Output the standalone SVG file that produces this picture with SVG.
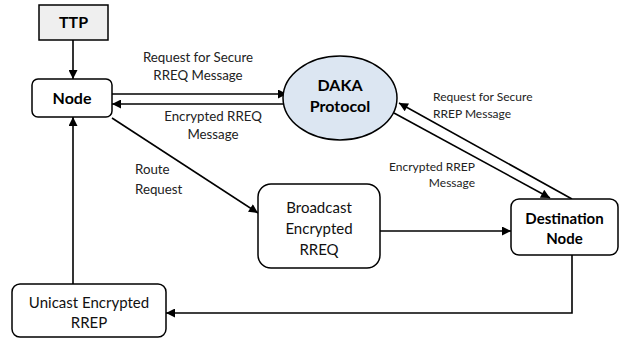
<svg xmlns="http://www.w3.org/2000/svg" width="620" height="339" viewBox="0 0 620 339">
  <defs>
    <marker id="arrow" viewBox="0 0 10 10" refX="10" refY="5" markerWidth="10" markerHeight="9" markerUnits="userSpaceOnUse" orient="auto">
      <path d="M0,0 L10,5 L0,10 z" fill="#000"/>
    </marker>
    <style>
      .box { fill: #fff; stroke: #000; stroke-width: 1.5; }
      .wire { fill: none; stroke: #000; stroke-width: 1.6; marker-end: url(#arrow); }
      .title { font-family: Lato, "Liberation Sans", sans-serif; font-weight: bold; font-size: 15px; fill: #000; text-anchor: middle; }
      .body { font-family: Lato, "Liberation Sans", sans-serif; font-size: 15px; fill: #111; text-anchor: middle; }
      .lbl { font-family: Lato, "Liberation Sans", sans-serif; font-size: 13.3px; fill: #222; text-anchor: middle; }
      .small { font-family: Lato, "Liberation Sans", sans-serif; font-size: 12px; fill: #222; }
    </style>
  </defs>
  <rect width="620" height="339" fill="#fff"/>

  <g id="connectors">
    <line class="wire" x1="73" y1="40" x2="73" y2="79"/>
    <line class="wire" x1="112" y1="94" x2="287" y2="94"/>
    <line class="wire" x1="286" y1="104" x2="112" y2="104"/>
    <line class="wire" x1="112" y1="118" x2="258" y2="213"/>
    <line class="wire" x1="380" y1="231" x2="511" y2="231"/>
    <line class="wire" x1="572" y1="199" x2="399" y2="103"/>
    <line class="wire" x1="394" y1="113" x2="550" y2="198"/>
    <polyline class="wire" points="572,255 572,313 166,313"/>
    <line class="wire" x1="73" y1="284" x2="73" y2="117"/>
  </g>

  <g id="edge-labels">
    <text class="lbl" x="198" y="62">Request for Secure</text>
    <text class="lbl" x="198" y="80">RREQ Message</text>
    <text class="lbl" x="213" y="121">Encrypted RREQ</text>
    <text class="lbl" x="213" y="139">Message</text>
    <text class="lbl" x="135" y="174" style="text-anchor:start">Route</text>
    <text class="lbl" x="135" y="194" style="text-anchor:start">Request</text>
    <text class="small" x="433" y="101">Request for Secure</text>
    <text class="small" x="433" y="118">RREP Message</text>
    <text class="small" x="475" y="171" style="text-anchor:end">Encrypted RREP</text>
    <text class="small" x="475" y="187" style="text-anchor:end">Message</text>
  </g>

  <g id="ttp">
    <rect x="39" y="5" width="69" height="35" fill="#efefef" stroke="#000" stroke-width="1.5"/>
    <text class="title" x="73.5" y="28" style="font-size:16px">TTP</text>
  </g>

  <g id="node">
    <rect class="box" x="32" y="79" width="80" height="38" rx="6"/>
    <text class="title" x="72" y="104" style="font-size:16px">Node</text>
  </g>

  <g id="daka">
    <ellipse cx="340" cy="98" rx="57" ry="42" fill="#dce6f2" stroke="#000" stroke-width="1.5"/>
    <text class="title" x="340" y="91" style="font-size:16px">DAKA</text>
    <text class="title" x="340" y="112" style="font-size:16px">Protocol</text>
  </g>

  <g id="broadcast">
    <rect class="box" x="258" y="184" width="122" height="84" rx="13"/>
    <text class="body" x="319" y="213">Broadcast</text>
    <text class="body" x="319" y="234">Encrypted</text>
    <text class="body" x="319" y="255">RREQ</text>
  </g>

  <g id="destination">
    <rect class="box" x="511" y="199" width="107" height="56" rx="8"/>
    <text class="title" x="564.5" y="224">Destination</text>
    <text class="title" x="564.5" y="244">Node</text>
  </g>

  <g id="unicast">
    <rect class="box" x="12" y="284" width="154" height="53" rx="8"/>
    <text class="body" x="89" y="308">Unicast Encrypted</text>
    <text class="body" x="89" y="328">RREP</text>
  </g>
</svg>
